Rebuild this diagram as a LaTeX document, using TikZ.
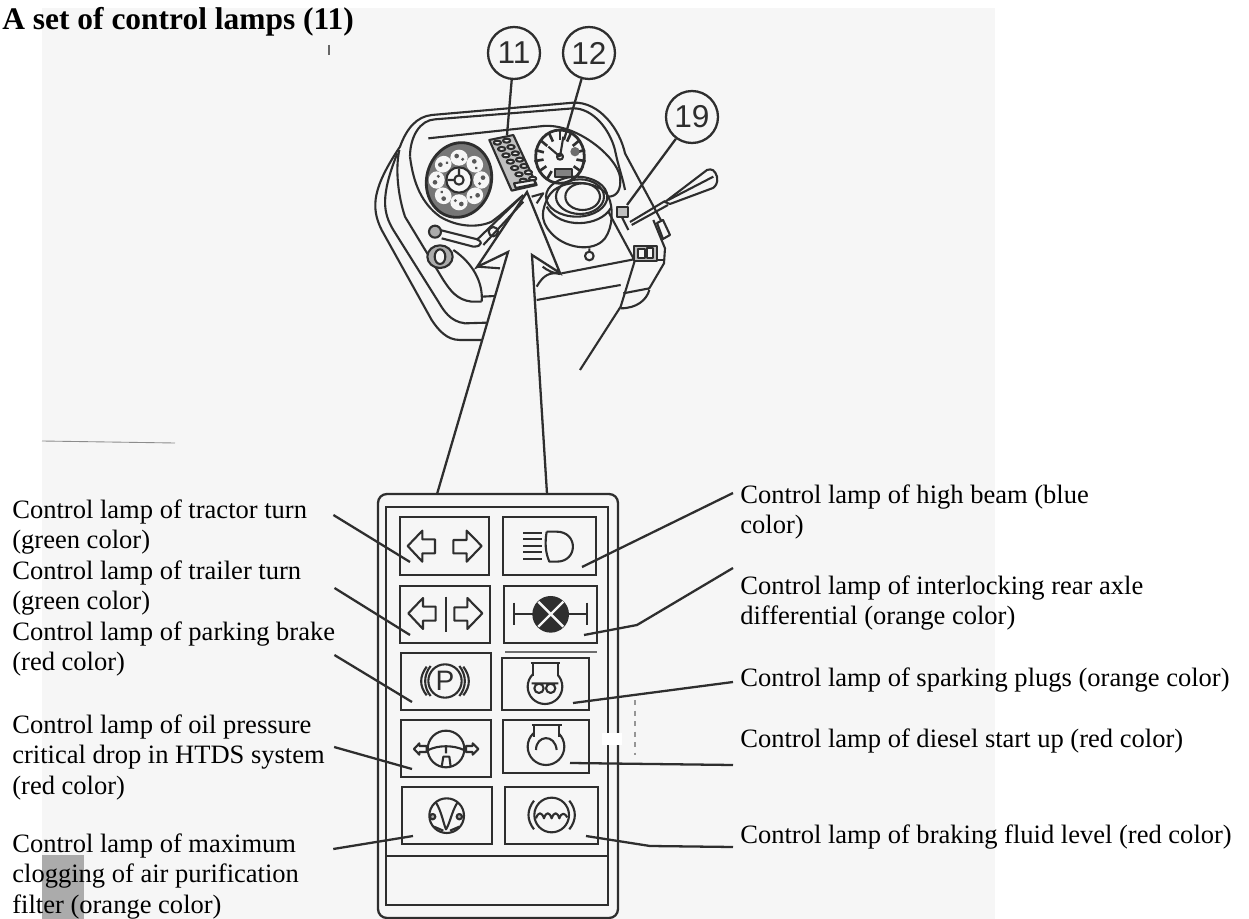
\documentclass[tikz,border=0pt]{standalone}
\usepackage{fontspec}
\setmainfont{Liberation Serif}
\newfontfamily\digitfont{Liberation Sans}
\usetikzlibrary{calc}
\definecolor{paper}{HTML}{F6F6F6}
\definecolor{ink}{HTML}{2E2E2E}

\begin{document}
\begin{tikzpicture}[
    x=0.02cm,y=-0.02cm,
    label/.style={anchor=north west,inner sep=0pt,align=left,text=black,font=\fontsize{15.1pt}{17.5pt}\selectfont},
    lamp/.style 2 args={rectangle,draw=ink,line width=1.3pt,minimum width=#1*0.02cm,minimum height=#2*0.02cm,inner sep=0pt,outer sep=0pt},
    wire/.style={draw=ink,line width=1.3pt},
    ink line/.style={draw=ink,line width=1.2pt,line join=round},
    sym/.style={draw=ink,line width=1.2pt,line join=round},
    callout/.style={circle,draw=ink,line width=1.3pt,minimum size=1.04cm,inner sep=0pt,text=ink,font=\digitfont\fontsize{18pt}{18pt}\selectfont}
]
    \useasboundingbox (0,0) rectangle (1249,919);
    \fill[white] (0,0) rectangle (1249,919);
    \fill[paper] (42,8) rectangle (995,919);
    \fill[black!33] (42,855) rectangle (84,919);
    \draw[black!45,line width=0.5pt] (42,441) -- (175,443);
    \draw[black!60,line width=0.6pt] (329,45) -- (329,55);

    % dashboard, traced in 3x crop coordinates
    \begin{scope}[shift={(360,0)},scale=1/3]
        \draw[ink line] (365,1020) -- (300,1020) .. controls (260,1020) and (235,990) .. (215,960) -- (65,690) .. controls (30,620) and (40,560) .. (120,440) .. controls (140,385) and (170,350) .. (215,345) -- (640,308) .. controls (720,305) and (780,390) .. (795,460) -- (905,665);
        \draw[ink line] (380,968) -- (315,970) .. controls (270,965) and (250,930) .. (235,905) -- (100,690) .. controls (70,640) and (60,590) .. (112,460);
        \draw[ink line] (365,905) -- (335,905) .. controls (290,900) and (270,870) .. (250,840) -- (135,650) .. controls (115,590) and (105,510) .. (118,450);
        \draw[ink line] (150,470) .. controls (150,410) and (180,360) .. (225,358) -- (640,325) .. controls (700,325) and (750,390) .. (765,450) .. controls (775,500) and (790,540) .. (795,570);
        \draw[ink line] (150,470) .. controls (160,550) and (185,610) .. (240,650) .. controls (290,680) and (350,685) .. (395,665) .. controls (430,640) and (460,610) .. (490,585);
        \draw[ink line] (205,415) -- (550,378) .. controls (650,370) and (770,470) .. (780,530) .. controls (785,570) and (770,590) .. (745,590);
        % left gauge
        \draw[line width=1.6pt,draw=ink,fill=ink!65,rotate around={-15:(297,540)}] (297,540) ellipse (97 and 113);
        \foreach \ang in {0,45,...,315}{
            \fill[paper,rotate around={\ang:(297,540)}] (297,473) ellipse (26 and 24);
            \fill[ink!80,rotate around={\ang:(297,540)}] (290,468) circle (7);
            \fill[ink!80,rotate around={\ang:(297,540)}] (308,478) circle (5);
        }
        \draw[ink line,fill=paper] (297,540) circle (38);
        \draw[ink line] (297,540) circle (14) (297,526) -- (297,505) (283,540) -- (262,540);
        % right gauge
        \draw[line width=1.6pt,draw=ink,fill=paper] (600,470) ellipse (73 and 80);
        \foreach \ang in {-150,-125,...,150}{
            \draw[ink line,line width=1.5pt,rotate around={\ang:(600,470)}] (600,392) -- (600,420);
        }
        \draw[ink line] (600,470) -- (565,440) (600,470) -- (610,410) (600,470) circle (9);
        \draw[ink line,fill=ink!60] (585,508) rectangle (635,530);
        \fill[ink!70] (645,455) circle (14);
        % strip of lamps
        \draw[ink line,fill=ink!30] (388,420) -- (460,405) -- (530,555) -- (455,572) -- cycle;
        \foreach \row in {0,...,6}{
            \draw[ink line,fill=paper] ({412+\row*13},{428+\row*19}) ellipse (11 and 6);
            \draw[ink line,fill=paper] ({440+\row*13},{422+\row*19}) ellipse (11 and 6);
        }
        \draw[ink line,fill=paper] (462,550) -- (522,540) -- (527,552) -- (467,564) -- cycle;
        % steering column
        \draw[ink line,fill=paper] (565,590) .. controls (545,630) and (540,660) .. (570,695) .. controls (610,745) and (700,760) .. (735,715) .. controls (760,680) and (760,620) .. (745,590) .. controls (720,540) and (600,530) .. (565,590) -- cycle;
        \draw[ink line] (650,590) ellipse (92 and 60);
        \draw[ink line] (660,590) ellipse (72 and 52);
        \draw[ink line] (668,590) ellipse (52 and 40);
        \draw[ink line] (560,620) .. controls (600,690) and (720,680) .. (752,625);
        \draw[ink line] (688,768) circle (13) (688,755) -- (688,745);
        % box under the column
        \draw[ink line] (745,635) -- (822,778) -- (605,820);
        \draw[ink line] (530,900) -- (782,855);
        \draw[ink line] (825,780) -- (782,920) -- (660,1110);
        \draw[ink line] (782,925) .. controls (830,925) and (860,900) .. (868,870) (790,880) -- (868,865) -- (912,790) -- (915,745) -- (880,660);
        \draw[ink line] (825,780) -- (915,780);
        \draw[ink line,fill=ink!30] (822,738) rectangle (890,782);
        \draw[ink line,fill=paper] (835,748) rectangle (855,775) (860,745) rectangle (880,775);
        \draw[ink line,fill=paper] (891,669) -- (909,660) -- (930,705) -- (909,717) -- cycle;
        % lever
        \draw[ink line] (810,666) -- (915,603) (815,675) -- (924,615);
        \draw[ink line,fill=paper] (915,606) -- (1041,510) .. controls (1055,505) and (1065,510) .. (1071,530) .. controls (1075,550) and (1065,560) .. (1059,564) -- (930,612) -- cycle;
        \draw[ink line] (925,600) -- (1060,530);
        \draw[ink line,fill=ink!30] (770,620) rectangle (805,650);
        \draw[ink line] (785,650) -- (805,690);
        % left stalk
        \draw[ink line] (240,690) -- (340,715) .. controls (370,720) and (370,740) .. (340,740) -- (245,715);
        \draw[ink line,fill=ink!40] (225,695) circle (18);
        \draw[ink line] (350,720) -- (480,595) (370,735) -- (490,605);
        \draw[ink line] (400,695) circle (14);
        \draw[ink line,fill=ink!40] (240,770) ellipse (38 and 34);
        \draw[ink line,fill=paper] (240,770) ellipse (16 and 22);
        \draw[ink line] (280,750) .. controls (340,790) and (370,850) .. (365,905);
        \draw[ink line] (352,800) -- (420,805);
        \draw[ink line] (365,890) -- (405,888);
        \draw[ink line] (530,860) .. controls (550,825) and (570,815) .. (600,822) (548,800) .. controls (560,810) and (580,822) .. (605,820);
        \draw[ink line] (515,590) -- (550,580) -- (530,610);
    \end{scope}

    % big arrow pointing to the strip, ends on the case
    \node[rectangle,draw=ink,line width=1.3pt,rounded corners=5pt,minimum width=4.8cm,minimum height=8.48cm,inner sep=0pt,outer sep=0pt] (lampCase) at (498,706) {};
    \coordinate (arrowTip) at (527,192);
    \draw[wire,line join=miter] ([shift={(59,0)}]lampCase.north west) -- (508,252) -- (477,267) -- (arrowTip) -- (560,273) -- (532,255) -- ([shift={(169,0)}]lampCase.north west);

    \node[rectangle,draw=ink,line width=1.3pt,minimum width=4.44cm,minimum height=7.96cm,inner sep=0pt,outer sep=0pt] (lampPanel) at (497,706) {};
    \draw[wire] (lampPanel.west |- 0,856) coordinate (panelCut) -- (lampPanel.east |- 0,856);
    \fill[white] (602,733) rectangle (622,745);
    \draw[ink!50,line width=0.6pt,dashed] (635,700) -- (635,755);

    % the ten lamps
    \node[lamp={89}{58}] (lampTurn) at (444.5,546) {};
    \node[lamp={93}{58}] (lampBeam) at (549.5,546) {};
    \node[lamp={90}{57}] (lampTrailer) at (445,614.5) {};
    \node[lamp={93}{57}] (lampDiff) at (550.5,614.5) {};
    \node[lamp={90}{57}] (lampBrake) at (446,681.5) {};
    \node[lamp={87}{52}] (lampPlugs) at (545.5,684) {};
    \node[lamp={90}{57}] (lampOil) at (446,748.5) {};
    \node[lamp={86}{53}] (lampStart) at (546,746.5) {};
    \node[lamp={90}{57}] (lampFilter) at (447,815.5) {};
    \node[lamp={93}{57}] (lampFluid) at (551.5,815.5) {};
    \draw[ink!70,line width=0.7pt] (lampPlugs.north west) ++(3,-6) -- ++(92,0);

    % symbols, 3x crop coordinates again
    \begin{scope}[shift={(360,480)},scale=1/3]
        \draw[sym] (143,198) -- (187,152) -- (187,178) -- (225,178) -- (225,220) -- (187,220) -- (187,245) -- cycle;
        \draw[sym] (365,198) -- (320,152) -- (320,180) -- (280,180) -- (280,220) -- (320,220) -- (320,245) -- cycle;
        \draw[sym] (560,155) -- (590,155) .. controls (655,155) and (655,245) .. (590,245) -- (568,245) .. controls (555,215) and (555,185) .. (560,155);
        \foreach \yy in {160,178,197,217,237}{\draw[sym] (490,\yy) -- (546,\yy);}
        \draw[sym] (145,400) -- (189,354) -- (189,380) -- (227,380) -- (227,422) -- (189,422) -- (189,447) -- cycle;
        \draw[sym] (367,400) -- (322,354) -- (322,382) -- (283,382) -- (283,422) -- (322,422) -- (322,447) -- cycle;
        \draw[sym] (257,350) -- (257,455);
        \fill[ink] (572,403) circle (55);
        \draw[paper,line width=1.4pt] (535,365) -- (610,440) (610,365) -- (535,440);
        \draw[sym] (462,402) -- (518,402) (462,368) -- (462,435) (626,402) -- (680,402) (680,368) -- (680,435);
        \draw[sym] (255,603) circle (50);
        \node[inner sep=0pt,text=ink,font=\digitfont\fontsize{16pt}{16pt}\selectfont] (parkP) at (255,603) {P};
        \draw[sym] (212,558) .. controls (190,585) and (190,622) .. (212,648) (200,560) .. controls (178,590) and (178,618) .. (200,646);
        \draw[sym] (298,558) .. controls (320,585) and (320,622) .. (298,648) (310,560) .. controls (332,590) and (332,618) .. (310,646);
        \draw[sym] (555,620) circle (52);
        \draw[sym,fill=paper] (520,588) -- (520,550) -- (594,550) -- (594,588);
        \draw[sym] (512,548) -- (600,548);
        \draw[sym] (537,625) circle (14) (572,625) circle (14) (515,610) -- (595,610);
    \end{scope}
    \begin{scope}[shift={(360,700)},scale=1/3]
        \draw[sym] (258,147) circle (55);
        \draw[sym] (205,150) .. controls (235,135) and (280,135) .. (312,150);
        \draw[sym] (258,135) -- (258,160) (245,200) -- (250,170) -- (268,170) -- (272,200);
        \draw[sym] (162,147) -- (178,130) -- (178,138) -- (200,138) -- (200,156) -- (178,156) -- (178,164) -- cycle;
        \draw[sym] (355,147) -- (338,130) -- (338,138) -- (318,138) -- (318,156) -- (338,156) -- (338,164) -- cycle;
        \draw[sym] (558,140) circle (55);
        \draw[sym,fill=paper] (522,110) -- (522,75) -- (598,75) -- (598,110);
        \draw[sym] (515,74) -- (605,74);
        \draw[sym] (528,150) .. controls (528,105) and (585,100) .. (590,150);
        \draw[sym] (260,347) circle (52);
        \draw[sym] (228,308) .. controls (245,335) and (250,370) .. (258,388) .. controls (270,370) and (275,335) .. (292,308);
        \draw[sym,fill=ink!40] (218,350) circle (8) (298,350) circle (8);
        \draw[sym] (222,380) -- (250,392) (298,380) -- (270,392);
        \draw[sym] (575,345) circle (52);
        \draw[sym] (528,355) .. controls (535,335) and (545,335) .. (552,355) .. controls (558,335) and (568,335) .. (575,355) .. controls (582,335) and (592,335) .. (598,355) .. controls (605,335) and (615,340) .. (622,352);
        \draw[sym] (522,302) .. controls (500,330) and (500,360) .. (522,388) (628,302) .. controls (650,330) and (650,360) .. (628,388);
    \end{scope}

    % callouts on the dashboard
    \node[callout] (callEleven) at (514,53) {11};
    \node[callout] (callTwelve) at (589,53) {12};
    \node[callout] (callNineteen) at (692,117) {19};
    \coordinate (stripTop) at (507,135);
    \coordinate (gaugeTop) at (564,140);
    \coordinate (leverBase) at (627,205);
    \draw[wire] (callEleven) -- (stripTop);
    \draw[wire] (callTwelve) -- (gaugeTop);
    \draw[wire] (callNineteen) -- (leverBase);

    % texts
    \node[label,font=\bfseries\fontsize{17.9pt}{19pt}\selectfont] (title) at (2,7) {A set of control lamps (11)};
    \node[label] (textTurn) at (12,499) {Control lamp of tractor turn\\(green color)};
    \node[label] (textTrailer) at (12,560) {Control lamp of trailer turn\\(green color)};
    \node[label] (textBrake) at (12,621) {Control lamp of parking brake\\(red color)};
    \node[label] (textOil) at (12,714) {Control lamp of oil pressure\\critical drop in HTDS system\\(red color)};
    \node[label] (textFilter) at (12,833) {Control lamp of maximum\\clogging of air purification\\filter (orange color)};
    \node[label] (textBeam) at (740,484) {Control lamp of high beam (blue\\color)};
    \node[label] (textDiff) at (740,575) {Control lamp of interlocking rear axle\\differential (orange color)};
    \node[label] (textPlugs) at (740,667) {Control lamp of sparking plugs (orange color)};
    \node[label] (textStart) at (740,728) {Control lamp of diesel start up (red color)};
    \node[label] (textFluid) at (740,824) {Control lamp of braking fluid level (red color)};

    % connectors, label side to lamp side
    \draw[wire] ([shift={(26,16)}]textTurn.north east) -- ([shift={(10,-13)}]lampTurn.south west);
    \draw[wire] ([shift={(33,28)}]textTrailer.north east) -- ([shift={(10,-8)}]lampTrailer.south west);
    \draw[wire] ([shift={(-1,34)}]textBrake.north east) -- ([shift={(11,-8)}]lampBrake.south west);
    \draw[wire] ([shift={(9,33)}]textOil.north east) -- ([shift={(11,-8)}]lampOil.south west);
    \draw[wire] ([shift={(34,16)}]textFilter.north east) -- ([shift={(11,-8)}]lampFilter.south west);
    \draw[wire] ([shift={(-7,9)}]textBeam.north west) -- ([shift={(-14,-8)}]lampBeam.south east);
    \draw[wire] ([shift={(-7,-7)}]textDiff.north west) -- (637,625) -- ([shift={(-13,-8)}]lampDiff.south east);
    \draw[wire] ([shift={(-7,15)}]textPlugs.north west) -- ([shift={(-16,-7)}]lampPlugs.south east);
    \draw[wire] ([shift={(-7,37)}]textStart.north west) -- ([shift={(-19,-10)}]lampStart.south east);
    \draw[wire] ([shift={(-7,23)}]textFluid.north west) -- (650,846) -- ([shift={(-12,-8)}]lampFluid.south east);
\end{tikzpicture}
\end{document}
